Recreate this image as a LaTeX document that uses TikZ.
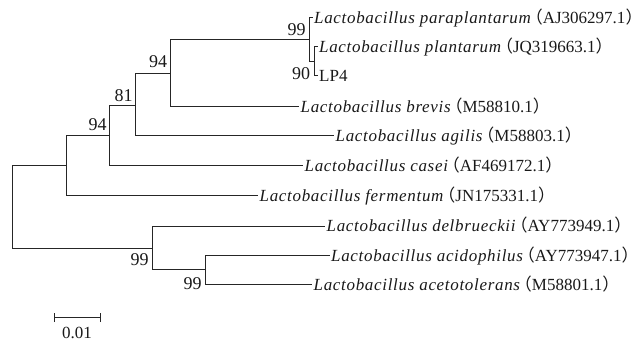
\documentclass[tikz,border=0pt]{standalone}
\usepackage{fontspec}
\setmainfont{Liberation Serif}
\newfontfamily\cjk{Noto Sans CJK SC}
\newfontfamily\spaced[LetterSpace=4]{Liberation Serif}
\newcommand{\lp}{\kern-0.3em{\cjk （}}
\newcommand{\rp}{{\cjk ）}}
\newcommand{\taxon}[2]{{\spaced\itshape Lactobacillus #1}\lp #2\rp}
\begin{document}
\begin{tikzpicture}[x=1pt,y=-1pt,
  branch/.style={draw=black!85,line width=1pt},
  leaf/.style={anchor=west,inner sep=1.5pt,text height=12pt,text depth=0pt,font=\fontsize{17}{19}\selectfont,text=black!90},
  boot/.style={inner sep=0pt,font=\fontsize{18}{20}\selectfont,text=black!90}]
\useasboundingbox (0,0) rectangle (643,342);
% internal nodes (x, attachment y)
\coordinate (R) at (12,207);
\coordinate (B) at (66.5,166);
\coordinate (C) at (109.5,135.5);
\coordinate (D) at (135,106);
\coordinate (E) at (170.5,73.5);
\coordinate (F) at (309.5,39.7);
\coordinate (G) at (314.3,61.3);
\coordinate (H) at (152.5,248);
\coordinate (I) at (205,269.5);
% leaves
\node[leaf] (l1) at (312.5,18) {\taxon{paraplantarum}{AJ306297.1}};
\node[leaf] (l2) at (317.5,47) {\taxon{plantarum}{JQ319663.1}};
\node[leaf] (l3) at (317.5,76) {LP4};
\node[leaf] (l4) at (299,107) {\taxon{brevis}{M58810.1}};
\node[leaf] (l5) at (334,136) {\taxon{agilis}{M58803.1}};
\node[leaf] (l6) at (303,166) {\taxon{casei}{AF469172.1}};
\node[leaf] (l7) at (258,196) {\taxon{fermentum}{JN175331.1}};
\node[leaf] (l8) at (325,226) {\taxon{delbrueckii}{AY773949.1}};
\node[leaf] (l9) at (329.5,255) {\taxon{acidophilus}{AY773947.1}};
\node[leaf] (l10) at (312,284) {\taxon{acetotolerans}{M58801.1}};
% branches
\draw[branch] (R) |- (B);
\draw[branch] (R) |- (H);
\draw[branch] (B) |- (C);
\draw[branch] (B) |- (l7.west);
\draw[branch] (C) |- (D);
\draw[branch] (C) |- (l6.west);
\draw[branch] (D) |- (E);
\draw[branch] (D) |- (l5.west);
\draw[branch] (E) |- (F);
\draw[branch] (E) |- (l4.west);
\draw[branch] (F) |- (l1.west);
\draw[branch] (F) |- (G);
\draw[branch] (G) |- (l2.west);
\draw[branch] (G) |- (l3.west);
\draw[branch] (H) |- (l8.west);
\draw[branch] (H) |- (I);
\draw[branch] (I) |- (l9.west);
\draw[branch] (I) |- (l10.west);
% bootstrap values
\node[boot] (bF) at (296.5,30) {99};
\node[boot] (bG) at (301,73.5) {90};
\node[boot] (bE) at (158,62) {94};
\node[boot] (bD) at (123.5,95.5) {81};
\node[boot] (bC) at (97.5,125) {94};
\node[boot] (bH) at (139.5,260) {99};
\node[boot] (bI) at (192.5,284) {99};
% scale bar
\coordinate (s1) at (54,317.5);
\coordinate (s2) at (100.5,317.5);
\draw[branch] (s1) -- (s2);
\draw[branch] ([yshift=-4.5pt]s1) -- ([yshift=4.5pt]s1);
\draw[branch] ([yshift=-4.5pt]s2) -- ([yshift=4.5pt]s2);
\node[boot,font=\fontsize{17}{19}\selectfont] (sl) at (77,332.5) {0.01};
\end{tikzpicture}
\end{document}
